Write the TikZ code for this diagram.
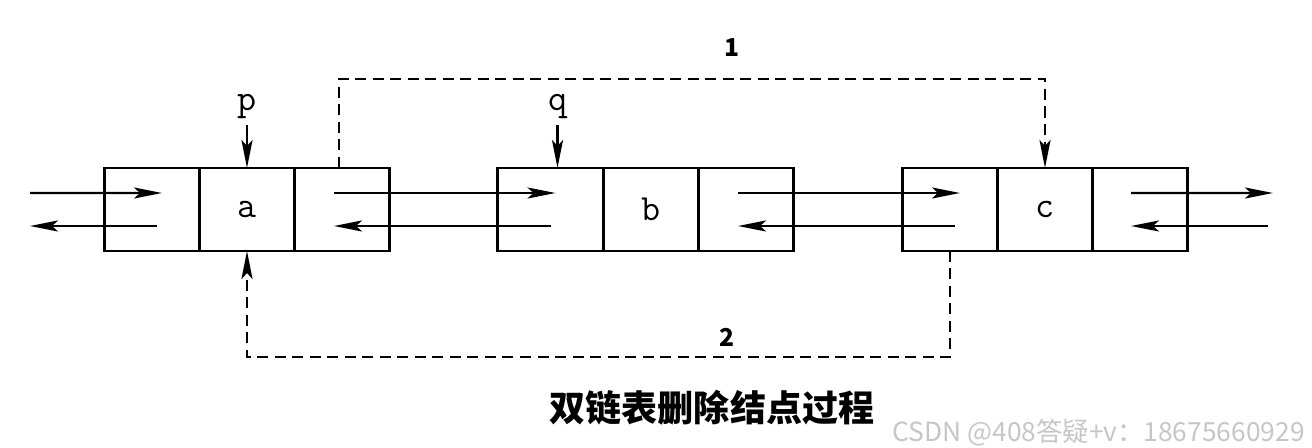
\documentclass[tikz,border=0pt]{standalone}
\usepackage{fontspec}
\newfontfamily\cjk{Noto Sans CJK SC}
\usetikzlibrary{arrows.meta,positioning,calc}

\tikzset{
 cell/.style={draw,line width=1.4pt,minimum width=1.9cm,minimum height=1.66cm,
   inner sep=0pt,outer sep=0pt,font=\ttfamily\fontsize{21}{21}\selectfont},
 ptr/.style={line width=1.4pt,-{Stealth[length=0.56cm,width=0.22cm,inset=0.12cm]}},
 dptr/.style={ptr,dash pattern=on 0.22cm off 0.13cm},
 ptrname/.style={font=\ttfamily\fontsize{21}{21}\selectfont,inner sep=0pt,outer sep=0.12cm},
 stepno/.style={font=\cjk\bfseries\fontsize{14}{14}\selectfont,inner sep=0pt},
}

\begin{document}
\begin{tikzpicture}
\useasboundingbox (0,0) rectangle (26.24,8.96);
%
% the three list nodes: prior | data | next
\foreach \n/\x/\w in {a/4.94/1.9,b/13.02/2.12,c/20.9/1.9}{
  \node[cell] (\n) at (\x,4.77) {\n};
  \node[cell,minimum width=\w cm,left=0pt of \n] (\n-l) {};
  \node[cell,right=0pt of \n] (\n-r) {};
}
%
% free ends of the outer pointers
\coordinate (in-top) at (0.6,5.1);
\coordinate (in-bot) at (0.6,4.44);
\coordinate (out-top) at (25.46,5.1);
\coordinate (out-bot) at (25.36,4.44);
%
% next / prior pointers
\draw[ptr] (in-top) -- ([shift={(0.2,0.33)}]a-l.center);
\draw[ptr] ([shift={(0.1,-0.33)}]a-l.center) -- (in-bot);
\draw[ptr] ([shift={(-0.16,0.33)}]a-r.center) -- ([shift={(0.1,0.33)}]b-l.center);
\draw[ptr] ([shift={(0,-0.33)}]b-l.center) -- ([shift={(-0.16,-0.33)}]a-r.center);
\draw[ptr] ([shift={(-0.16,0.33)}]b-r.center) -- ([shift={(0.2,0.33)}]c-l.center);
\draw[ptr] ([shift={(0.1,-0.33)}]c-l.center) -- ([shift={(-0.16,-0.33)}]b-r.center);
\draw[ptr] ([shift={(-0.18,0.33)}]c-r.center) -- (out-top);
\draw[ptr] (out-bot) -- ([shift={(-0.18,-0.33)}]c-r.center);
%
% p and q
\node[ptrname,above=0.86cm of a.north] (p) {p};
\draw[ptr] (p) -- (a.north);
\node[ptrname,above=0.86cm of {[xshift=0.14cm]b-l.north}] (q) {q};
\draw[ptr] (q) -- (q |- b-l.north);
%
% step 1: a->next = c
\draw[dptr] ([xshift=-0.06cm]a-r.north) |- ($(c.north)+(0,1.78)$) -- (c.north);
\node[stepno] (one) at (14.64,8.0) {1};
%
% step 2: c->prior = a
\draw[dptr] (c-l.south) |- ($(a.south)+(0,-2.12)$) -- (a.south);
\node[stepno] (two) at (14.54,2.22) {2};
%
\node[font=\cjk\bfseries\fontsize{20.5}{20.5}\selectfont] (title) at (14.24,0.8) {双链表删除结点过程};
\node[font=\cjk\fontsize{15}{15}\selectfont,text=gray!45,anchor=east,inner sep=0pt] (mark) at (26.1,0.3) {CSDN @408答疑+v：18675660929};
\end{tikzpicture}
\end{document}
